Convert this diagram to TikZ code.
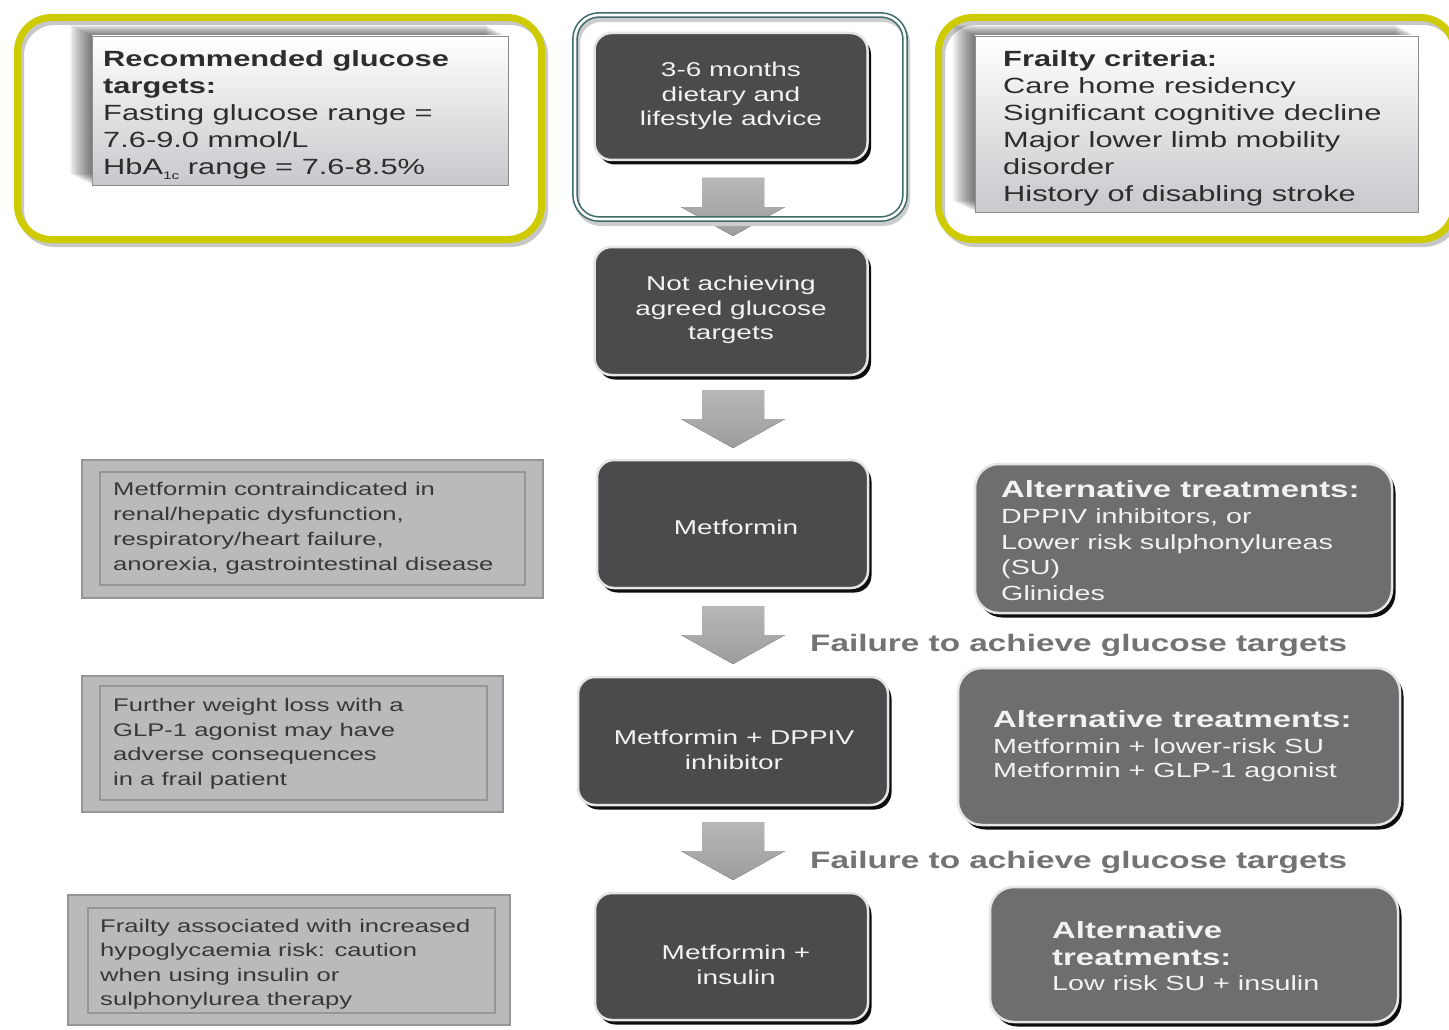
\documentclass[tikz,border=0pt]{standalone}
\usepackage{fontspec}
\setmainfont{Liberation Sans}[FakeStretch=1.4]
\usetikzlibrary{shadows,calc}
\definecolor{ylw}{RGB}{206,204,0}
\definecolor{tealf}{RGB}{62,106,106}
\definecolor{darkfill}{RGB}{75,75,77}
\definecolor{altfill}{RGB}{110,110,113}
\definecolor{notefill}{RGB}{186,186,189}
\definecolor{noteline}{RGB}{150,150,153}
\definecolor{arrowgray}{RGB}{165,165,168}
\definecolor{failtxt}{RGB}{115,115,117}
\definecolor{txt}{RGB}{45,45,45}
\definecolor{lighttxt}{RGB}{242,242,242}
\definecolor{boxbot}{RGB}{200,200,205}
\begin{document}
\begin{tikzpicture}[x=1pt,y=-1pt,
  yframe/.style={draw=ylw, line width=7pt, rounded corners=34pt, inner sep=0, outer sep=0,
    preaction={draw=black!22, line width=7pt, transform canvas={xshift=3pt,yshift=-4pt}}},
  tframe/.style={draw=tealf, line width=1.6pt, double=white, double distance=2.6pt, rounded corners=24pt, inner sep=0, outer sep=0,
    preaction={draw=black!20, line width=6pt, transform canvas={xshift=2pt,yshift=-4pt}}},
  topbox/.style={draw=black!45, line width=0.6pt, top color=white, bottom color=boxbot, inner sep=0, outer sep=0},
  darkbox/.style={fill=darkfill, draw=black!10, line width=2.5pt, rounded corners=17pt, inner sep=0, outer sep=0,
    drop shadow={shadow xshift=3.5pt, shadow yshift=-4.5pt, fill=black, opacity=0.95}},
  altbox/.style={fill=altfill, draw=black!10, line width=2.5pt, rounded corners=24pt, inner sep=0, outer sep=0,
    drop shadow={shadow xshift=3.5pt, shadow yshift=-4.5pt, fill=black, opacity=0.95}},
  notebox/.style={fill=notefill, draw=noteline, line width=2pt, inner sep=0, outer sep=0},
  toptxt/.style={anchor=north west, inner sep=0, align=left, text=txt, font=\fontsize{22}{27}\selectfont},
  darktxt/.style={inner sep=0, align=center, text=lighttxt, font=\fontsize{20}{24.5}\selectfont},
  notetxt/.style={anchor=north west, inner sep=0, align=left, text=black!78, font=\fontsize{18.3}{24.7}\selectfont},
  alttitle/.style={anchor=north west, inner sep=0, align=left, text=lighttxt, font=\bfseries\fontsize{23.5}{27}\selectfont},
  altbody/.style={anchor=north west, inner sep=0, align=left, text=lighttxt, font=\fontsize{20.5}{25.5}\selectfont},
  failtext/.style={anchor=north west, inner sep=0, text=failtxt, font=\bfseries\fontsize{23.8}{28}\selectfont},
  downarrow/.pic={\fill[top color=arrowgray!80!white, bottom color=arrowgray!95!black]
     (-31,0) -- (31,0) -- (31,29) -- (52,29) -- (0,58) -- (-52,29) -- (-31,29) -- cycle;}
]
\useasboundingbox[fill=white] (0,0) rectangle (1449,1030);

% ---- top row frames ----
\node[yframe, minimum width=524pt, minimum height=222pt] (f1) at (279.5,128.5) {};
\node[yframe, minimum width=516pt, minimum height=222pt] (f2) at (1196.5,128.5) {};

% top-left info box with soft shadow
\foreach \o in {2,4,...,22}{
  \fill[black, opacity=0.06] (92-\o,36-\o/2) rectangle (508-\o,185-\o/2);}
\node[topbox, minimum width=416pt, minimum height=149pt] (tgt) at (300,110.5) {};
\node[toptxt] (tgtT) at (103,50) {\textbf{Recommended glucose}\\\textbf{targets:}\\Fasting glucose range =\\7.6-9.0 mmol/L\\HbA\raisebox{-5pt}{\fontsize{11}{11}\selectfont 1c} range = 7.6-8.5\%};

% top-right info box with soft shadow
\foreach \o in {2,4,...,22}{
  \fill[black, opacity=0.06] (975-\o,36-\o/2) rectangle (1418-\o,212-\o/2);}
\node[topbox, minimum width=443pt, minimum height=176pt] (frail) at (1196.5,124) {};
\node[toptxt] (frailT) at (1003,50) {\textbf{Frailty criteria:}\\Care home residency\\Significant cognitive decline\\Major lower limb mobility\\disorder\\History of disabling stroke};

% ---- central column ----
\node[darkbox, minimum width=273pt, minimum height=127pt] (b1) at (731,96.5) {};
\node[darktxt] (b1t) at (731,96) {3-6 months\\dietary and\\lifestyle advice};
\pic at ($(b1.south)+(2,18)$) {downarrow};
\node[tframe, minimum width=330pt, minimum height=204pt] (tf) at (740,117) {};

\node[darkbox, minimum width=273pt, minimum height=128pt] (b2) at (731,311) {};
\node[darktxt] (b2t) at (731,310) {Not achieving\\agreed glucose\\targets};
\pic at ($(b2.south)+(2,15)$) {downarrow};

\node[darkbox, minimum width=271pt, minimum height=128pt] (b3) at (732.5,524) {};
\node[darktxt] (b3t) at (736,527) {Metformin};
\pic at ($(b3.south)+(0.5,18)$) {downarrow};
\node[failtext] (fail1) at (810,634.5) {Failure to achieve glucose targets};

\node[darkbox, minimum width=310pt, minimum height=128pt] (b4) at (733,741) {};
\node[darktxt] (b4t) at (734,750) {Metformin + DPPIV\\inhibitor};
\pic at ($(b4.south)+(0,17)$) {downarrow};
\node[failtext] (fail2) at (810,851.5) {Failure to achieve glucose targets};

\node[darkbox, minimum width=273pt, minimum height=127pt] (b5) at (731.5,956.5) {};
\node[darktxt] (b5t) at (736,965) {Metformin +\\insulin};

% ---- alternative treatments ----
\node[altbox, minimum width=417pt, minimum height=149pt] (alt1) at (1183.5,538.5) {};
\node[alttitle] (alt1h) at (1001,480.5) {Alternative treatments:};
\node[altbody] (alt1b) at (1001,508.5) {DPPIV inhibitors, or\\Lower risk sulphonylureas\\(SU)\\Glinides};

\node[altbox, minimum width=442pt, minimum height=157pt] (alt2) at (1179,746.5) {};
\node[alttitle] (alt2h) at (993,710.5) {Alternative treatments:};
\node[altbody, font=\fontsize{20.5}{24}\selectfont] (alt2b) at (993,738.5) {Metformin + lower-risk SU\\Metformin + GLP-1 agonist};

\node[altbox, minimum width=408pt, minimum height=135pt] (alt3) at (1194,954.5) {};
\node[alttitle] (alt3h) at (1052,921.5) {Alternative\\treatments:};
\node[altbody] (alt3b) at (1052,975.5) {Low risk SU + insulin};

% ---- note boxes ----
\node[notebox, minimum width=461pt, minimum height=138pt] (n1) at (312.5,529) {};
\draw[noteline, line width=2pt] ($(n1.north west)+(18,12)$) rectangle ($(n1.south east)+(-18,-13)$);
\node[notetxt] (n1t) at (113,482.5) {Metformin contraindicated in\\renal/hepatic dysfunction,\\respiratory/heart failure,\\anorexia, gastrointestinal disease};

\node[notebox, minimum width=421pt, minimum height=136pt] (n2) at (292.5,744) {};
\draw[noteline, line width=2pt] ($(n2.north west)+(18,10)$) rectangle ($(n2.south east)+(-16,-12)$);
\node[notetxt] (n2t) at (113,698) {Further weight loss with a\\GLP-1 agonist may have\\adverse consequences\\in a frail patient};

\node[notebox, minimum width=442pt, minimum height=130pt] (n3) at (289,960) {};
\draw[noteline, line width=2pt] ($(n3.north west)+(20,13)$) rectangle ($(n3.south east)+(-15,-12)$);
\node[notetxt, font=\fontsize{18.3}{24.4}\selectfont] (n3t) at (100,919) {Frailty associated with increased\\hypoglycaemia risk: caution\\when using insulin or\\sulphonylurea therapy};
\end{tikzpicture}
\end{document}
